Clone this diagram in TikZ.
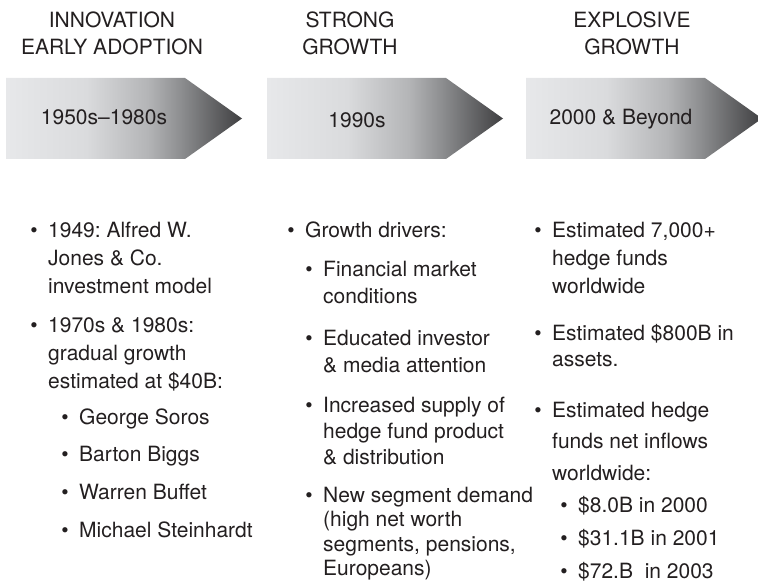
\documentclass[tikz,border=0pt]{standalone}
\usepackage{fontspec}
\setmainfont{TeX Gyre Heros}
\usetikzlibrary{positioning}
\frenchspacing

\definecolor{inkgray}{HTML}{231F20}
\definecolor{shadeA}{HTML}{E7E8EA}
\definecolor{shadeB}{HTML}{DADBDD}
\definecolor{shadeC}{HTML}{B4B5B7}
\definecolor{shadeD}{HTML}{8D8E90}
\definecolor{shadeE}{HTML}{3F3F41}

% Light on the left, dark towards the tip (25bp..75bp is the path)
\pgfdeclarehorizontalshading{stageshade}{100bp}{color(0bp)=(shadeA); color(25bp)=(shadeA); color(42bp)=(shadeB); color(55bp)=(shadeC); color(62bp)=(shadeD); color(75bp)=(shadeE); color(100bp)=(shadeE)}

\tikzset{
	heading/.style={align=center, anchor=base, inner sep=0pt, text=inkgray, font=\fontsize{21}{27}\selectfont},
	stagelabel/.style={anchor=base, inner sep=0pt, text=inkgray, font=\fontsize{21}{27}\selectfont},
	entry/.style={anchor=base west, inner sep=0pt, text=inkgray, font=\fontsize{21}{#1}\selectfont},
	entry/.default=28,
	bulletmark/.style={anchor=base, inner sep=0pt, text=inkgray, font=\fontsize{21}{21}\selectfont}
}

\begin{document}
\begin{tikzpicture}[x=1pt, y=-1pt]
	\useasboundingbox (0,0) rectangle (758,583);

	% Draw the three shaded stage arrows with their periods
	\foreach \name/\x/\lx/\ly/\txt in {a/6/98/125/1950s--1980s, b/267/90/128/1990s, c/526/95/125/2000 \& Beyond} {
		\shade[shading=stageshade] (\x,78) -- ++(179,0) -- ++(57,40.5) -- ++(-57,40.5) -- ++(-179,0) -- cycle;
		\node[stagelabel] (period-\name) at (\x+\lx,\ly) {\txt};
	}

	% Headings above the arrows (base is the second line)
	\node[heading] (head-a) at (112,55) {INNOVATION\\EARLY ADOPTION};
	\node[heading] (head-b) at (350,55) {STRONG\\GROWTH};
	\node[heading] (head-c) at (632,55) {EXPLOSIVE\\GROWTH};

	% Bulleted entries: name / x / first baseline / line spacing / text
	\foreach \name/\x/\y/\lead/\txt in {
		c1a/48/237/28/{1949: Alfred W.\\Jones \& Co.\\investment model},
		c1b/48/332/28/{1970s \& 1980s:\\gradual growth\\estimated at \$40B:},
		c1s1/79/424/28/{George Soros},
		c1s2/79/461/28/{Barton Biggs},
		c1s3/79/499/28/{Warren Buffet},
		c1s4/79/537/28/{Michael Steinhardt},
		c2a/305/237/28/{Growth drivers:},
		c2s1/323/276/27/{Financial market\\conditions},
		c2s2/323/345/27/{Educated investor\\\& media attention},
		c2s3/323/412/26/{Increased supply of\\hedge fund product\\\& distribution},
		c2s4/323/502/24.5/{New segment demand\\(high net worth\\segments, pensions,\\Europeans)},
		c3a/552/237/28/{Estimated 7,000+\\hedge funds\\worldwide},
		c3b/552/340/26/{Estimated \$800B in\\assets.},
		c3c/552/417/31.5/{Estimated hedge\\funds net inflows\\worldwide:},
		c3s1/578/512/28/{\$8.0B in 2000},
		c3s2/578/545/28/{\$31.1B in 2001},
		c3s3/578/578/28/{\$72.B\ \ in 2003}
	} {
		\node[entry=\lead] (\name) at (\x,\y) {\begin{tabular}[t]{@{}l@{}}\txt\end{tabular}};
		\node[bulletmark] (\name-dot) at ([xshift=-14pt]\name.base west) {\textbullet};
	}
\end{tikzpicture}
\end{document}
